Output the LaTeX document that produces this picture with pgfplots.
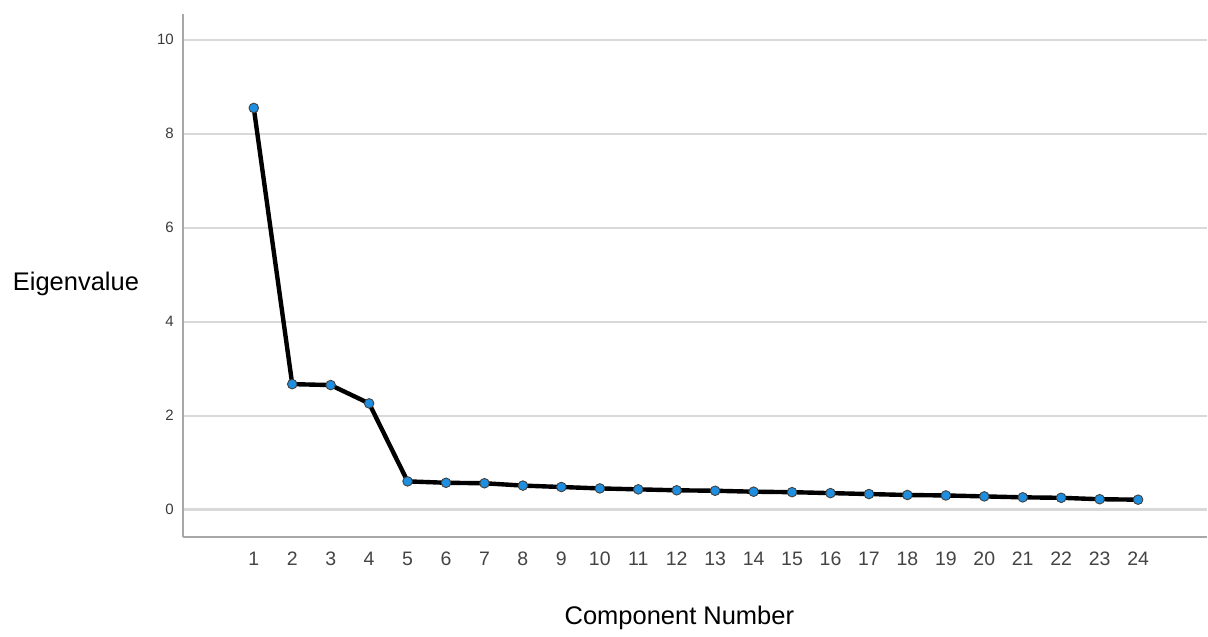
\documentclass[border=0pt]{standalone}
\usepackage{fontspec}
\setmainfont{Liberation Sans}
\usepackage{pgfplots}
\pgfplotsset{compat=1.18}
\definecolor{gridc}{HTML}{D9D9D9}
\definecolor{axc}{HTML}{A8A8A8}
\definecolor{mkc}{HTML}{1E8FE0}
\definecolor{tkc}{HTML}{444444}
\begin{document}
\begin{tikzpicture}
\begin{axis}[
  scale only axis,
  width=512.5pt, height=261.5pt,
  xmin=-0.845, xmax=25.79,
  ymin=-0.574, ymax=10.55,
  axis x line*=bottom, axis y line*=left,
  axis line style={axc, line width=1pt},
  xtick={1,...,24}, ytick={0,2,4,6,8,10},
  major tick length=0pt,
  ymajorgrids, grid style={gridc, line width=1.1pt},
  /pgf/number format/assume math mode=true,
  xticklabel style={font=\fontsize{9.75pt}{11pt}\selectfont, text=tkc, text height=7.2pt, text depth=0pt, yshift=-4pt},
  yticklabel style={font=\fontsize{7.5pt}{8.5pt}\selectfont, text=tkc!85!black, xshift=-1pt},
  clip=false,
]
\addplot[black, line width=2.2pt, mark=*, mark options={fill=mkc, draw=black!75, line width=0.45pt}, mark size=2.4pt]
coordinates {
(1,8.55) (2,2.67) (3,2.65) (4,2.26) (5,0.60) (6,0.57) (7,0.56) (8,0.51)
(9,0.48) (10,0.45) (11,0.43) (12,0.41) (13,0.40) (14,0.38) (15,0.37) (16,0.35)
(17,0.33) (18,0.31) (19,0.30) (20,0.28) (21,0.26) (22,0.25) (23,0.22) (24,0.21)
};
\end{axis}
\node[anchor=base, font=\fontsize{12.75pt}{14pt}\selectfont] at (-53.5pt,123pt) {Eigenvalue};
\node[anchor=base, font=\fontsize{12.75pt}{14pt}\selectfont] at (248.5pt,-44pt) {Component Number};
\useasboundingbox (-91.5pt,-46.5pt) rectangle (512.5pt,268.5pt);
\end{tikzpicture}
\end{document}
